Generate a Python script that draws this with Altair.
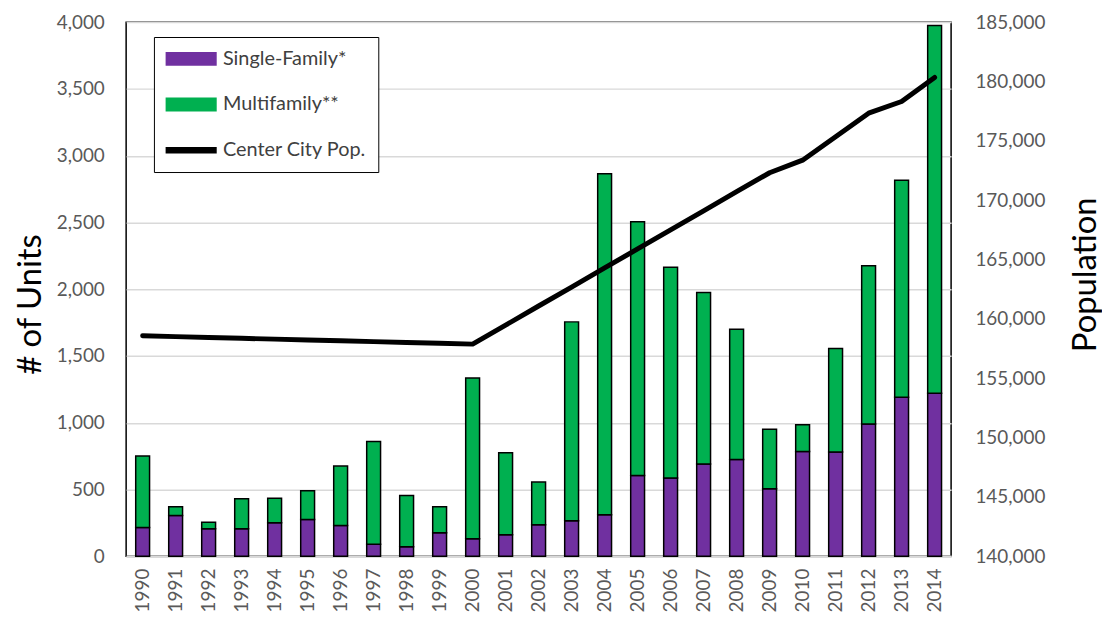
import altair as alt
import pandas as pd

# ---- data ----
years = ["1990", "1991", "1992", "1993", "1994", "1995", "1996", "1997", "1998", "1999",
         "2000", "2001", "2002", "2003", "2004", "2005", "2006", "2007", "2008", "2009",
         "2010", "2011", "2012", "2013", "2014"]
single_family = [215, 305, 205, 205, 250, 275, 230, 90, 70, 175,
                 130, 160, 235, 265, 310, 605, 585, 690, 725, 505,
                 785, 780, 990, 1190, 1220]
multifamily = [535, 65, 50, 225, 185, 215, 445, 770, 385, 195,
               1205, 615, 320, 1490, 2555, 1900, 1580, 1285, 975, 445,
               200, 775, 1185, 1625, 2755]
population = [158570, 158500, 158430, 158360, 158290, 158220, 158150, 158080, 158010, 157940,
              157870, 159470, 161080, 162680, 164290, 165890, 167500, 169100, 170710, 172310,
              173370, 175350, 177330, 178310, 180340]

series_names = ["Single-Family*", "Multifamily**", "Center City Pop."]
series_colors = ["#7030A0", "#00B050", "#000000"]
# legend glyphs: symbol size 289 -> unit = 8.5px
BAR_SYMBOL = "M-2.94,-0.735H2.94V0.735H-2.94Z"
LINE_SYMBOL = "M-2.94,-0.3H2.94V0.3H-2.94Z"
series_shapes = [BAR_SYMBOL, BAR_SYMBOL, LINE_SYMBOL]
units_ticks = [0, 500, 1000, 1500, 2000, 2500, 3000, 3500, 4000]
pop_ticks = [140000, 145000, 150000, 155000, 160000, 165000, 170000, 175000, 180000, 185000]

rows = []
for y, s, m in zip(years, single_family, multifamily):
    rows.append({"year": y, "type": series_names[0], "units": s, "ord": 0})
    rows.append({"year": y, "type": series_names[1], "units": m, "ord": 1})
bars_df = pd.DataFrame(rows)
pop_df = pd.DataFrame({"year": years, "pop": population, "type": series_names[2]})

FONT = "Lato"
LABEL_GRAY = "#595959"

legend = alt.Legend(
    title=None, orient="none", legendX=28, legendY=15, direction="vertical",
    fillColor="white", strokeColor="black", padding=12, cornerRadius=0,
    symbolSize=289, symbolStrokeWidth=1.5, symbolStrokeColor="black",
    symbolOpacity=1, symbolOffset=15.5,
    labelFont=FONT, labelFontSize=20, labelColor="#404040", labelOffset=22,
    rowPadding=26, labelLimit=400,
)

color = alt.Color("type:N", scale=alt.Scale(domain=series_names, range=series_colors), legend=legend)
shape = alt.Shape("type:N", scale=alt.Scale(domain=series_names, range=series_shapes), legend=legend)

x_enc = alt.X(
    "year:N", sort=years,
    scale=alt.Scale(paddingInner=0.58, paddingOuter=0.29),
    axis=alt.Axis(title=None, labelAngle=-90, labelFont=FONT, labelFontSize=19,
                  labelColor=LABEL_GRAY, labelPadding=12, ticks=False, grid=False,
                  domainColor="#d9d9d9", domainWidth=2.5),
)

bars = alt.Chart(bars_df).mark_bar(stroke="black", strokeWidth=1.5).encode(
    x=x_enc,
    y=alt.Y("units:Q", stack="zero", scale=alt.Scale(domain=[0, 4000], nice=False),
            axis=alt.Axis(values=units_ticks, format=",.0f", title="# of Units",
                          labelFont=FONT, labelFontSize=19, labelColor=LABEL_GRAY,
                          labelPadding=22, ticks=False, domain=False,
                          grid=True, gridColor="#d9d9d9", gridWidth=1.5,
                          titleFont=FONT, titleFontSize=33, titleFontWeight="normal",
                          titleColor="black", titleAngle=270, titleX=-86, titleY=284,
                          titleAlign="center", titleBaseline="alphabetic")),
    color=color,
    order=alt.Order("ord:Q", sort="ascending"),
)

line = alt.Chart(pop_df).mark_line(strokeWidth=5, strokeCap="round", strokeJoin="round").encode(
    x=alt.X("year:N", sort=years),
    y=alt.Y("pop:Q", scale=alt.Scale(domain=[140000, 185000], nice=False, zero=False),
            axis=alt.Axis(orient="right", values=pop_ticks, format=",.0f", title="Population",
                          labelFont=FONT, labelFontSize=19, labelColor=LABEL_GRAY,
                          labelPadding=24, ticks=False, domain=False, grid=False,
                          titleFont=FONT, titleFontSize=33, titleFontWeight="normal",
                          titleColor="black", titleAngle=270, titleX=145, titleY=254,
                          titleAlign="center", titleBaseline="alphabetic")),
    color=color,
)

# invisible helper layer that only carries the legend shapes
legend_layer = alt.Chart(pop_df).mark_point(
    filled=True, opacity=0, stroke="black", strokeWidth=1.5
).encode(
    x=alt.X("year:N", sort=years),
    color=color,
    shape=shape,
)

chart = alt.layer(bars, line, legend_layer).resolve_scale(y="independent").properties(
    width=831, height=538,
    autosize=alt.AutoSizeParams(type="none"),
    padding={"left": 119, "top": 12, "right": 152, "bottom": 58},
).configure_view(stroke="black", strokeWidth=1.5)

chart.save("out.html", embed_options={"renderer": "svg", "actions": False})
